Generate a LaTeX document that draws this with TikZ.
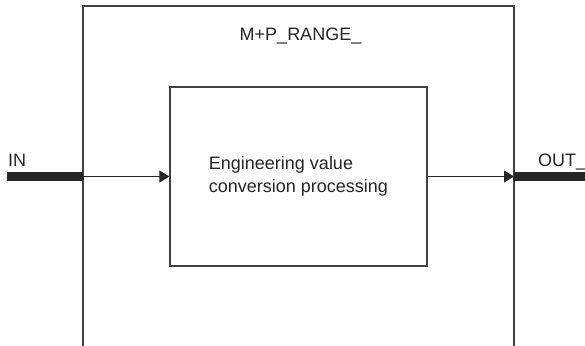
\documentclass[tikz,border=0pt]{standalone}
\usepackage{fontspec}
\setmainfont{Liberation Sans}
\usepackage{tikz}
\usetikzlibrary{positioning,arrows.meta}

\begin{document}
\begin{tikzpicture}[x=1pt,y=1pt,
	frame/.style={draw=black!75,line width=1.2pt},
	flow/.style={-{Triangle[length=10pt,width=12pt]},line width=0.9pt,black!85},
	bus/.style={line width=8.5pt,black!85},
	lab/.style={font=\fontsize{18}{23.5}\selectfont,inner sep=0pt,text=black!85}]
	
	\useasboundingbox (0,0) rectangle (585,345);
	
	% outer block, open at the bottom
	\draw[frame] (83,-3) -- (83,339) -- (514,339) -- (514,-3);
	\node[lab,anchor=base] (fbname) at (300.5,304.3) {M+P\_RANGE\_};
	
	% inner block
	\node[frame,lab,align=left,minimum width=257pt,minimum height=179pt] (proc) at (298.5,168.5)
	{Engineering value\\conversion processing};
	
	\coordinate (inend) at (7,168.5);
	\coordinate (fl) at (83,168.5);
	\coordinate (fr) at (514,168.5);
	\coordinate (outend) at (592,168.5);
	
	\draw[bus] (inend) -- (fl);
	\draw[bus] (fr) -- (outend);
	\draw[flow] (fl) -- (proc.west);
	\draw[flow] (proc.east) -- (fr);
	
	\node[lab,anchor=base west] (inlab) at (8,178.3) {IN};
	\node[lab,anchor=base west] (outlab) at (538,178.3) {OUT\_};
	
\end{tikzpicture}
\end{document}
